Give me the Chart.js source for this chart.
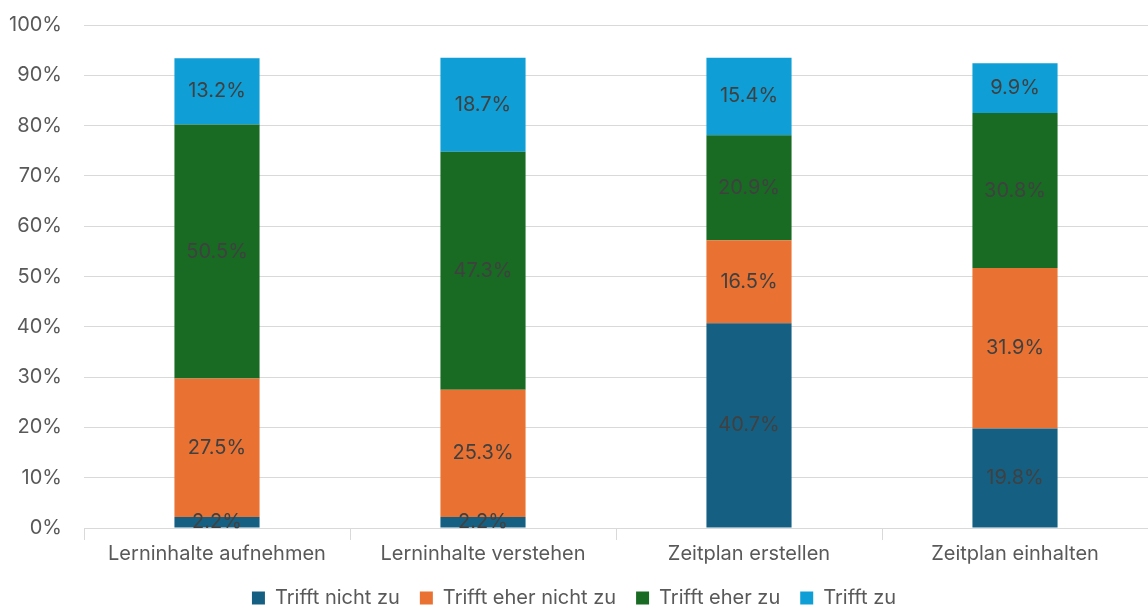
<!DOCTYPE html>
<html><head><meta charset="utf-8">
<script src="https://cdn.jsdelivr.net/npm/chart.js@4"></script>
<style>html,body{margin:0;padding:0;background:#fff}#wrap{width:1148px;height:607px;position:relative}</style>
</head><body><div id="wrap"><canvas id="c"></canvas></div>
<script>
const categories = ["Lerninhalte aufnehmen","Lerninhalte verstehen","Zeitplan erstellen","Zeitplan einhalten"];
const seriesNames = ["Trifft nicht zu","Trifft eher nicht zu","Trifft eher zu","Trifft zu"];
const trifftNichtZu = [2.2, 2.2, 40.7, 19.8];
const trifftEherNichtZu = [27.5, 25.3, 16.5, 31.9];
const trifftEherZu = [50.5, 47.3, 20.9, 30.8];
const trifftZu = [13.2, 18.7, 15.4, 9.9];
const yTicks = [0,10,20,30,40,50,60,70,80,90,100];

const colors = ["#156082","#E97132","#196B24","#0F9ED5"];
const FONT = "Inter, 'Open Sans', sans-serif";

const labelPlugin = {
  id: 'vlabels',
  afterDatasetsDraw(chart){
    const ctx = chart.ctx;
    ctx.save();
    ctx.font = "20px " + FONT;
    ctx.fillStyle = "#404040";
    ctx.textAlign = "center";
    ctx.textBaseline = "middle";
    chart.data.datasets.forEach((ds, i) => {
      const meta = chart.getDatasetMeta(i);
      meta.data.forEach((bar, j) => {
        const v = ds.data[j];
        const y = (bar.y + bar.base) / 2;
        ctx.fillText(v.toFixed(1) + "%", bar.x, y);
      });
    });
    ctx.restore();
  }
};

new Chart(document.getElementById('c'), {
  type: 'bar',
  data: {
    labels: categories,
    datasets: [trifftNichtZu, trifftEherNichtZu, trifftEherZu, trifftZu].map((d, i) => ({
      label: seriesNames[i], data: d, backgroundColor: colors[i],
      barPercentage: 0.64, categoryPercentage: 0.5, borderWidth: 0
    }))
  },
  options: {
    responsive: true, maintainAspectRatio: false, animation: false,
    layout: { padding: { top: 25, right: 0, left: 0, bottom: -11 } },
    plugins: {
      tooltip: { enabled: false },
      legend: {
        position: 'bottom',
        labels: { font: { size: 20, family: FONT }, color: "#595959", boxWidth: 13, boxHeight: 13, padding: 20 }
      }
    },
    scales: {
      x: {
        stacked: true,
        grid: { offset: true, drawOnChartArea: false, drawTicks: true, tickLength: 12, color: "#d9d9d9" },
        border: { display: true, color: "#d9d9d9" },
        ticks: { font: { size: 20, family: FONT }, color: "#595959", padding: 2 }
      },
      y: {
        stacked: true, min: 0, max: 100,
        afterBuildTicks(axis){ axis.ticks = yTicks.map(v => ({ value: v })); },
        afterFit(axis){ axis.width = 84; },
        grid: { color: "#d9d9d9", drawTicks: true, tickLength: 20, tickColor: "rgba(0,0,0,0)" },
        border: { display: false },
        ticks: { font: { size: 20, family: FONT }, color: "#595959", padding: 2, callback: v => v + "%" }
      }
    }
  },
  plugins: [labelPlugin]
});
</script></body></html>
